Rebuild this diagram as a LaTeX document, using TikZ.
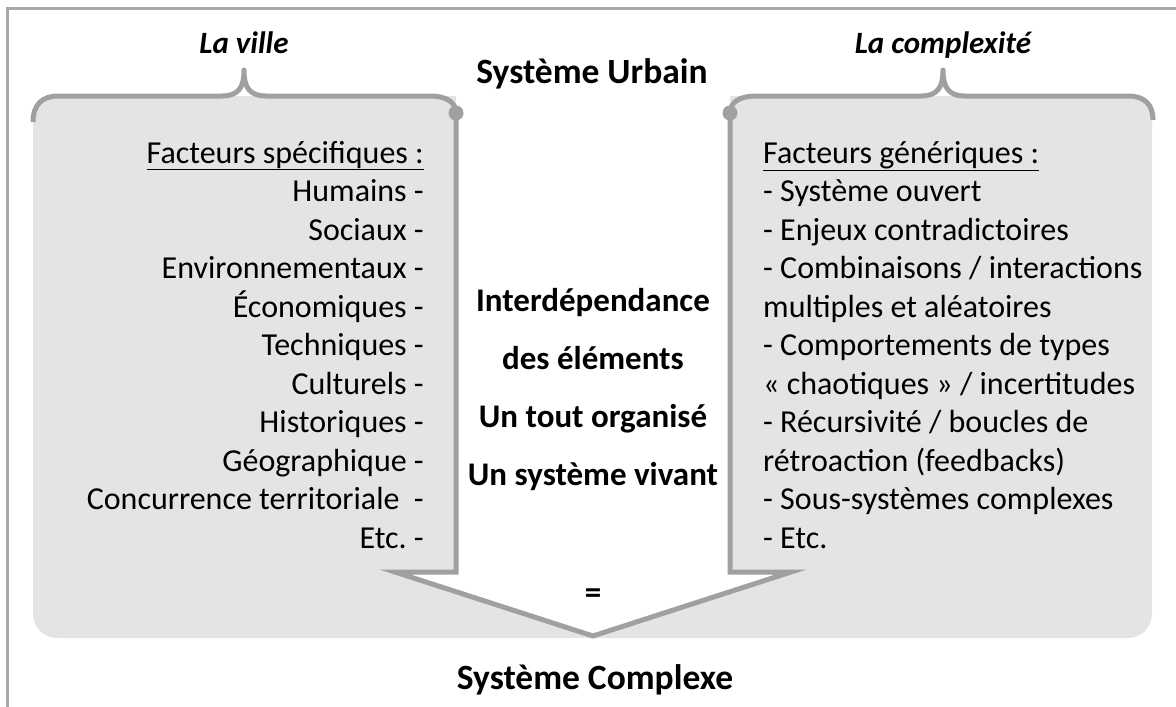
\documentclass[tikz,border=0pt]{standalone}
\usepackage{fontspec}
\setmainfont{Carlito}
\frenchspacing
\definecolor{panelgrey}{HTML}{E4E4E4}
\definecolor{edgegrey}{HTML}{A0A0A0}
\definecolor{framegrey}{HTML}{A8A8A8}
\tikzset{
  bodytext/.style={font=\fontsize{32}{38}\selectfont, inner sep=0pt, text=black},
  boldtext/.style={font=\fontsize{33}{38}\selectfont\bfseries, inner sep=0pt, text=black},
  headtext/.style={font=\fontsize{35.5}{38}\selectfont\bfseries, inner sep=0pt, text=black},
  itext/.style={font=\fontsize{31}{34}\selectfont\bfseries\itshape, inner sep=0pt, text=black},
  outline/.style={draw=edgegrey, line width=5pt},
}
\begin{document}
\begin{tikzpicture}[x=1pt,y=-1pt]
\useasboundingbox (0,0) rectangle (1176,707);
% frame
\draw[framegrey, line width=3pt] (7,708) -- (7,8) -- (1177,8);
% grey panel
\fill[panelgrey, rounded corners=24pt] (33,96) rectangle (1152,638);
% white arrow
\fill[white] (456,90) -- (456,572) -- (395,572) -- (593,636) -- (791,572) -- (730,572) -- (730,90) -- cycle;
\draw[outline, line join=miter] (456,112) -- (456,572) -- (395,572) -- (593,636) -- (791,572) -- (730,572) -- (730,112);
\fill[edgegrey] (456,113) circle (7.5pt);
\fill[edgegrey] (730,113) circle (7.5pt);
% braces
\draw[outline, line join=round] (33,122) .. controls (33,105) and (42,96) .. (58,96) -- (222,96) .. controls (238,96) and (244,88) .. (244,70) .. controls (244,88) and (250,96) .. (266,96) -- (430,96) .. controls (446,96) and (456,102) .. (456,113);
\draw[outline, line join=round] (730,113) .. controls (730,102) and (740,96) .. (756,96) -- (921,96) .. controls (937,96) and (943,88) .. (943,70) .. controls (943,88) and (949,96) .. (965,96) -- (1128,96) .. controls (1144,96) and (1153,104) .. (1153,120);
% titles
\node[itext, anchor=base] (ville) at (244,53) {La ville};
\node[itext, anchor=base] (complex) at (943,53) {La complexité};
\node[headtext, anchor=base] (urbain) at (592,83) {Système Urbain};
\node[headtext, anchor=base] (complexe) at (595,689) {Système Complexe};
\node[boldtext, anchor=base] (eq) at (593,603) {=};
% left column
\foreach \t [count=\i from 0] in {{\underline{Facteurs spécifiques :}},{Humains -},{Sociaux -},{Environnementaux -},{Économiques -},{Techniques -},{Culturels -},{Historiques -},{Géographique -},{Concurrence territoriale\ \ -},{Etc. -}}
  \node[bodytext, anchor=base east] (L\i) at (424,163+38.5*\i) {\t};
% right column
\foreach \t [count=\i from 0] in {{\underline{Facteurs génériques :}},{- Système ouvert},{- Enjeux contradictoires},{- Combinaisons / interactions},{multiples et aléatoires},{- Comportements de types},{« chaotiques » / incertitudes},{- Récursivité / boucles de},{rétroaction (feedbacks)},{- Sous-systèmes complexes},{- Etc.}}
  \node[bodytext, anchor=base west] (R\i) at (763,163+38.5*\i) {\t};
% centre
\foreach \t [count=\i from 0] in {Interdépendance,des éléments,Un tout organisé,Un système vivant}
  \node[boldtext, anchor=base] (C\i) at (593,311+58*\i) {\t};
\end{tikzpicture}
\end{document}
